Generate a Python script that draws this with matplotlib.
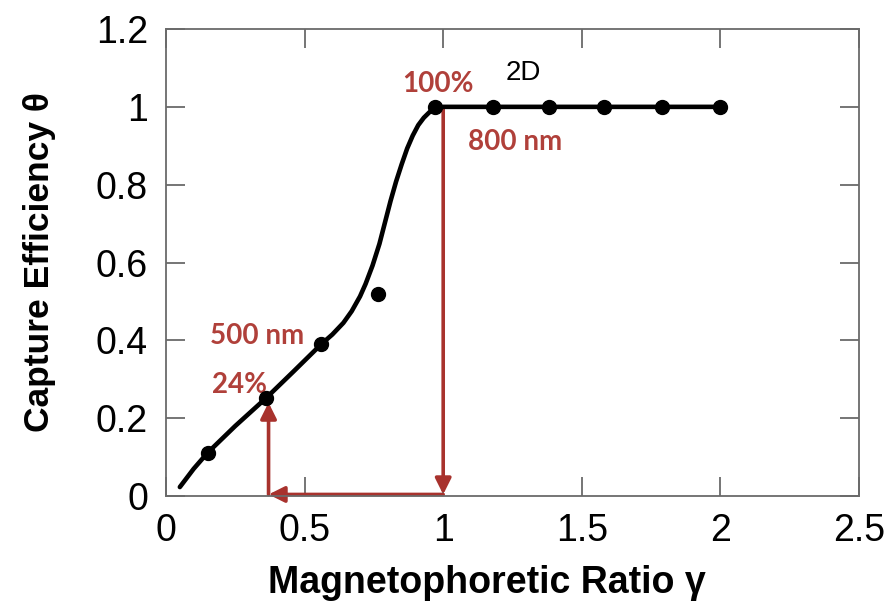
import matplotlib
matplotlib.use("Agg")
import matplotlib.pyplot as plt

# measured capture efficiency vs magnetophoretic ratio
gamma = [0.15, 0.36, 0.56, 0.765, 0.97, 1.18, 1.38, 1.58, 1.79, 2.0]
theta = [0.111, 0.251, 0.39, 0.52, 1.0, 1.0, 1.0, 1.0, 1.0, 1.0]

# fitted trend line
fit_gamma = [0.05, 0.10, 0.15, 0.25, 0.36, 0.46, 0.56, 0.60, 0.64, 0.67, 0.70, 0.72,
             0.745, 0.77, 0.79, 0.81, 0.83, 0.85, 0.87, 0.89, 0.91, 0.93,
             0.95, 0.965, 0.98, 1.0, 2.0]
fit_theta = [0.023, 0.07, 0.111, 0.18, 0.251, 0.32, 0.39, 0.415, 0.445, 0.475, 0.513, 0.545,
             0.592, 0.648, 0.703, 0.758, 0.808, 0.852, 0.893, 0.926, 0.953, 0.972,
             0.986, 0.993, 0.998, 1.0, 1.0]

x_ticks = [0, 0.5, 1, 1.5, 2, 2.5]
x_tick_labels = ["0", "0.5", "1", "1.5", "2", "2.5"]
y_ticks = [0, 0.2, 0.4, 0.6, 0.8, 1.0, 1.2]
y_tick_labels = ["0", "0.2", "0.4", "0.6", "0.8", "1", "1.2"]

red = "#a8322d"
red_txt = "#b0403a"
frame = "#6a6a6a"

plt.rcParams["font.family"] = ["Liberation Sans", "DejaVu Sans"]

fig = plt.figure(figsize=(8.89, 6.11), dpi=100)
ax = fig.add_axes([0.1867, 0.1882, 0.7796, 0.7643])

ax.plot(fit_gamma, fit_theta, color="black", lw=3.3, solid_capstyle="round",
        solid_joinstyle="round", zorder=3)
ax.plot(gamma, theta, "o", color="black", ms=10, zorder=4)

# red guide arrows: 100% -> axis, axis -> 500 nm, up to 24%
arrow = dict(arrowstyle="-|>", color=red, lw=2.6, mutation_scale=24,
             shrinkA=0, shrinkB=0)
ax.annotate("", xy=(1.0, 0.004), xytext=(1.0, 1.0), arrowprops=arrow,
            annotation_clip=False, zorder=2)
ax.annotate("", xy=(0.37, 0.004), xytext=(1.0, 0.004), arrowprops=arrow,
            annotation_clip=False, zorder=2)
ax.annotate("", xy=(0.37, 0.24), xytext=(0.37, 0.004), arrowprops=arrow,
            annotation_clip=False, zorder=2)

lbl = dict(color=red_txt, fontsize=20, fontweight="bold", family=["Lato", "DejaVu Sans"])
ax.text(0.98, 1.06, "100%", ha="center", va="center", **lbl)
ax.text(1.09, 0.91, "800 nm", ha="left", va="center", **lbl)
ax.text(0.16, 0.41, "500 nm", ha="left", va="center", **lbl)
ax.text(0.165, 0.285, "24%", ha="left", va="center", **lbl)
ax.text(1.29, 1.087, "2D", ha="center", va="center", fontsize=20, color="black")

ax.set_xlim(0, 2.5)
ax.set_ylim(0, 1.2)
ax.set_xticks(x_ticks)
ax.set_xticklabels(x_tick_labels)
ax.set_yticks(y_ticks)
ax.set_yticklabels(y_tick_labels)

for s in ax.spines.values():
    s.set_color(frame)
    s.set_linewidth(1.3)
ax.tick_params(axis="both", direction="in", length=14, width=1.3, color=frame,
               labelsize=27, top=True, right=True)
ax.tick_params(axis="x", pad=12)
ax.tick_params(axis="y", pad=13)

ax.set_xlabel("Magnetophoretic Ratio \u03b3", fontsize=27, fontweight="bold", va="center")
ax.set_ylabel("Capture Efficiency \u03b8", fontsize=25.5, fontweight="bold", va="center")
ax.xaxis.set_label_coords(0.463, -0.187)
ax.yaxis.set_label_coords(-0.182, 0.5)

fig.savefig("out.png", dpi=100)
